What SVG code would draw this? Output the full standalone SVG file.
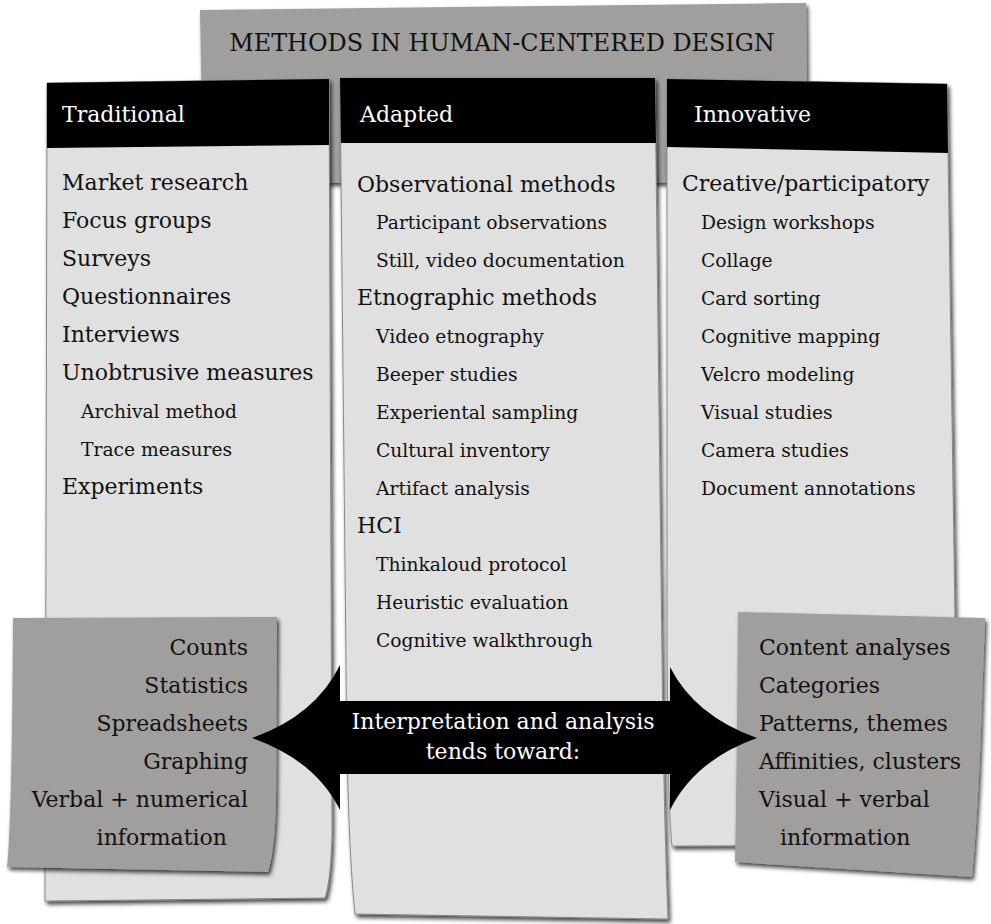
<svg xmlns="http://www.w3.org/2000/svg" width="991" height="924" viewBox="0 0 991 924">
<defs>
<filter id="sh" x="-10%" y="-10%" width="120%" height="120%">
<feDropShadow dx="2" dy="3" stdDeviation="2" flood-color="#000" flood-opacity="0.75"/>
</filter>
<style>
text{font-family:"DejaVu Serif","Liberation Serif",serif;fill:#111}
.t{font-size:23.9px}
.h{font-size:22px;fill:#fff}
.m{font-size:22px}
.s{font-size:18.7px}
.w{font-size:22px;fill:#fff}
.box{fill:#a09f9d;filter:url(#sh)}
.col{fill:#e0e0e0;stroke:#8a8a8a;stroke-width:1;filter:url(#sh)}
.hd{fill:#000}
</style>
</defs>
<rect width="991" height="924" fill="#fff"/>
<g id="title">
<path class="box" d="M200,10 L806,3 L808,183 L203,183 Z"/>
<text class="t" x="502" y="51" text-anchor="middle">METHODS IN HUMAN-CENTERED DESIGN</text>
</g>
<g id="traditional">
<path class="col" d="M47,83 L329,79 L332,830 Q331,880 325,898 L45,901 Q46,600 47,83 Z"/>
<path class="hd" d="M47,83 L329,79 L329,145 L47,148 Z"/>
<text class="h" x="62" y="122">Traditional</text>
<text class="m" x="62" y="190">Market research</text>
<text class="m" x="62" y="228">Focus groups</text>
<text class="m" x="62" y="266">Surveys</text>
<text class="m" x="62" y="304">Questionnaires</text>
<text class="m" x="62" y="342">Interviews</text>
<text class="m" x="62" y="380">Unobtrusive measures</text>
<text class="s" x="81" y="418">Archival method</text>
<text class="s" x="81" y="456">Trace measures</text>
<text class="m" x="62" y="494">Experiments</text>
</g>
<g id="adapted">
<path class="col" d="M340,78 L655,78 L662,660 Q664,820 668,919 L355,914 Q347,840 346,660 Z"/>
<path class="hd" d="M340,78 L655,78 L656,143 L341,143 Z"/>
<text class="h" x="360" y="122">Adapted</text>
<text class="m" x="357" y="192">Observational methods</text>
<text class="s" x="376" y="229">Participant observations</text>
<text class="s" x="376" y="267">Still, video documentation</text>
<text class="m" x="357" y="305">Etnographic methods</text>
<text class="s" x="376" y="343">Video etnography</text>
<text class="s" x="376" y="381">Beeper studies</text>
<text class="s" x="376" y="419">Experiental sampling</text>
<text class="s" x="376" y="457">Cultural inventory</text>
<text class="s" x="376" y="495">Artifact analysis</text>
<text class="m" x="357" y="533">HCI</text>
<text class="s" x="376" y="571">Thinkaloud protocol</text>
<text class="s" x="376" y="609">Heuristic evaluation</text>
<text class="s" x="376" y="647">Cognitive walkthrough</text>
</g>
<g id="innovative">
<path class="col" d="M667,79 L947,84 L955,620 L953,760 L950,845 L672,846 Q667,800 667,600 Z"/>
<path class="hd" d="M667,79 L947,84 L948,153 L667,147 Z"/>
<text class="h" x="694" y="122">Innovative</text>
<text class="m" x="682" y="191">Creative/participatory</text>
<text class="s" x="701" y="229">Design workshops</text>
<text class="s" x="701" y="267">Collage</text>
<text class="s" x="701" y="305">Card sorting</text>
<text class="s" x="701" y="343">Cognitive mapping</text>
<text class="s" x="701" y="381">Velcro modeling</text>
<text class="s" x="701" y="419">Visual studies</text>
<text class="s" x="701" y="457">Camera studies</text>
<text class="s" x="701" y="495">Document annotations</text>
</g>
<g id="quantitative">
<path class="box" d="M13,618 L277,617 L276,800 Q275,850 268,872 L7,867 Q12,820 13,618 Z"/>
<g text-anchor="end">
<text class="m" x="248" y="655">Counts</text>
<text class="m" x="248" y="693">Statistics</text>
<text class="m" x="248" y="731">Spreadsheets</text>
<text class="m" x="248" y="769">Graphing</text>
<text class="m" x="248" y="807">Verbal + numerical</text>
<text class="m" x="227" y="845">information</text>
</g>
</g>
<g id="qualitative">
<path class="box" d="M738,612 L985,618 L982,700 Q979,800 972,877 L735,862 Q737,760 738,612 Z"/>
<text class="m" x="759" y="655">Content analyses</text>
<text class="m" x="759" y="693">Categories</text>
<text class="m" x="759" y="731">Patterns, themes</text>
<text class="m" x="759" y="769">Affinities, clusters</text>
<text class="m" x="759" y="807">Visual + verbal</text>
<text class="m" x="780" y="845">information</text>
</g>
<g id="connectors">
<path fill="#000" d="M252,738 Q315,716 340,665 L340,701 L670,701 L670,667 Q695,716 757,738 Q695,760 670,810 L670,774 L340,774 L340,810 Q315,760 252,738 Z"/>
<text class="w" x="503" y="729" text-anchor="middle">Interpretation and analysis</text>
<text class="w" x="503" y="759" text-anchor="middle">tends toward:</text>
</g>
</svg>
